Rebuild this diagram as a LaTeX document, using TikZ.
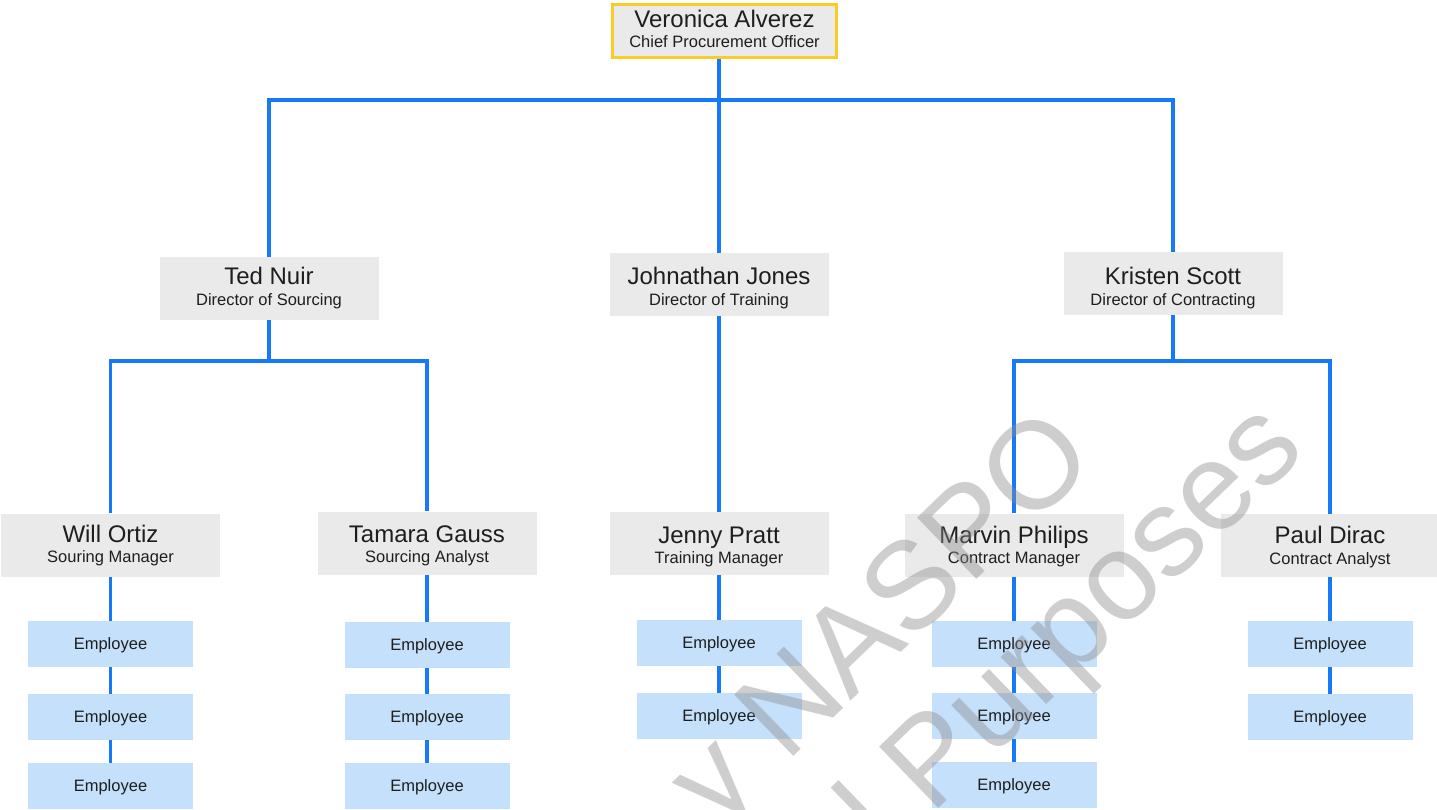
\documentclass[tikz,border=0pt]{standalone}
\usepackage{fontspec}
\setmainfont{Liberation Sans}
\usetikzlibrary{backgrounds}
\definecolor{boxgrey}{RGB}{234,234,234}
\definecolor{empblue}{RGB}{197,224,251}
\definecolor{linkblue}{RGB}{22,122,248}
\definecolor{topgold}{RGB}{250,204,40}
\definecolor{inkdark}{RGB}{30,30,30}
\tikzset{
  gbox/.style={fill=boxgrey, minimum width=219pt, minimum height=63pt, inner sep=0pt},
  topbox/.style={fill=boxgrey, draw=topgold, line width=3.5pt, minimum width=224pt, minimum height=53pt, inner sep=0pt},
  ebox/.style={fill=empblue, minimum width=165pt, minimum height=46pt, inner sep=0pt,
    text height=11.8pt, text depth=0pt, font=\fontsize{16.5}{18}\selectfont, text=inkdark},
  nametext/.style={font=\fontsize{24}{26}\selectfont, inner sep=0pt, text=inkdark, anchor=base},
  titletext/.style={font=\fontsize{16.5}{18}\selectfont, inner sep=0pt, text=inkdark, anchor=base},
  conn/.style={draw=linkblue, line width=3.2pt},
  wmark/.style={font=\fontsize{124}{124}\selectfont, text=black!45, text opacity=0.42, inner sep=0pt, rotate=44, anchor=base west}
}
% #1 name, #2 x, #3 y, #4 Name, #5 Title, #6 name baseline y, #7 title baseline y
\newcommand\personbox[7]{%
  \node[gbox] (#1) at (#2,#3) {};
  \node[nametext] (#1n) at (#2,#6) {#4};
  \node[titletext] (#1t) at (#2,#7) {#5};
}
\newcommand\empbox[3]{\node[ebox] (#1) at (#2,#3) {Employee};}
\begin{document}
\begin{tikzpicture}[x=1pt,y=-1pt]
\useasboundingbox (0,0) rectangle (1437,809);
\clip (0,0) rectangle (1437,809);

% top
\node[topbox] (top) at (724.5,31) {};
\node[nametext] (topn) at ([yshift=4pt]top.center) {Veronica Alverez};
\node[titletext] (topt) at ([yshift=-16pt]top.center) {Chief Procurement Officer};

% level 2
\personbox{ted}{269}{288.5}{Ted Nuir}{Director of Sourcing}{284.8}{305.2}
\personbox{john}{719}{284.5}{Johnathan Jones}{Director of Training}{284.8}{305.2}
\personbox{kris}{1173}{283.5}{Kristen Scott}{Director of Contracting}{284}{305}

% level 3
\personbox{will}{110.5}{545}{Will Ortiz}{Souring Manager}{542.8}{562.5}
\personbox{tam}{427}{543}{Tamara Gauss}{Sourcing Analyst}{542}{562.3}
\personbox{jen}{719}{543.5}{Jenny Pratt}{Training Manager}{543.5}{563.3}
\personbox{mar}{1014}{545}{Marvin Philips}{Contract Manager}{543}{563.3}
\personbox{paul}{1330}{545.5}{Paul Dirac}{Contract Analyst}{543}{564}

% employees
\empbox{w1}{110.5}{644}
\empbox{w2}{110.5}{717}
\empbox{w3}{110.5}{786}
\empbox{t1}{427}{645}
\empbox{t2}{427}{717}
\empbox{t3}{427}{786}
\empbox{j1}{719}{643}
\empbox{j2}{719}{716}
\empbox{m1}{1014}{644}
\empbox{m2}{1014}{716}
\empbox{m3}{1014}{785}
\empbox{p1}{1330}{644}
\empbox{p2}{1330}{717}

\coordinate (bus1) at (0,100);
\coordinate (bus2) at (0,361);

\begin{scope}[on background layer]
\fill[white] (0,0) rectangle (1437,809);
\draw[conn] (top.south -| john.north) -- (john.north);
\draw[conn] (ted.north) |- (bus1 -| kris.north) -- (kris.north);
\draw[conn] (ted.south) -- (ted.south |- bus2);
\draw[conn] (will.north) |- (bus2 -| tam.north) -- (tam.north);
\draw[conn] (john.south) -- (jen.north);
\draw[conn] (kris.south) -- (kris.south |- bus2);
\draw[conn] (mar.north) |- (bus2 -| paul.north) -- (paul.north);
\draw[conn] (will.south) -- (w1.north);
\draw[conn] (w1.south) -- (w2.north);
\draw[conn] (w2.south) -- (w3.north);
\draw[conn] (tam.south) -- (t1.north);
\draw[conn] (t1.south) -- (t2.north);
\draw[conn] (t2.south) -- (t3.north);
\draw[conn] (jen.south) -- (j1.north);
\draw[conn] (j1.south) -- (j2.north);
\draw[conn] (mar.south) -- (m1.north);
\draw[conn] (m1.south) -- (m2.north);
\draw[conn] (m2.south) -- (m3.north);
\draw[conn] (paul.south) -- (p1.north);
\draw[conn] (p1.south) -- (p2.north);
\end{scope}

% watermark
\node[wmark] (wmA) at (717,831) {y NASPO};
\node[wmark] (wmB) at (887,859) {l Purposes};
\end{tikzpicture}
\end{document}
